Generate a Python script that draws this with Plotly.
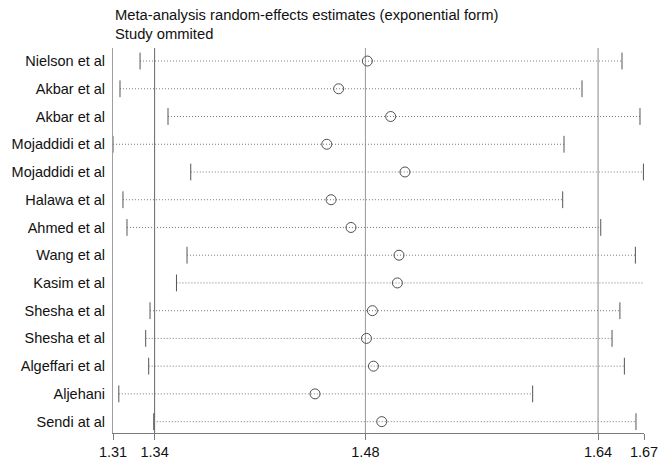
import plotly.graph_objects as go

studies = ["Nielson et al", "Akbar et al", "Akbar et al", "Mojaddidi et al", "Mojaddidi et al",
           "Halawa et al", "Ahmed et al", "Wang et al", "Kasim et al", "Shesha et al",
           "Shesha et al", "Algeffari et al", "Aljehani", "Sendi at al"]
estimate = [1.4835, 1.4642, 1.4992, 1.4562, 1.5088, 1.4591, 1.4725,
            1.5048, 1.5037, 1.4869, 1.4829, 1.4876, 1.4483, 1.4932]
lower = [1.3306, 1.3171, 1.3494, 1.3124, 1.3647, 1.3191, 1.3218,
         1.3622, 1.3551, 1.3373, 1.3344, 1.3364, 1.3163, 1.3398]
upper = [1.6548, 1.6279, 1.6669, 1.6158, 1.6692, 1.6149, 1.6405,
         1.6638, 1.6699, 1.6534, 1.6481, 1.6564, 1.5947, 1.6642]

pooled = 1.4822
pooled_low = 1.3404
pooled_high = 1.6387
axis_min = 1.3124
axis_max = 1.6696
tick_values = [axis_min, pooled_low, pooled, pooled_high, axis_max]
tick_labels = ["1.31", "1.34", "1.48", "1.64", "1.67"]

FONT = "Liberation Sans, Arial, sans-serif"
rows = list(range(len(studies)))

fig = go.Figure()

# dotted CI lines
for i in rows:
    fig.add_trace(go.Scatter(x=[lower[i], upper[i]], y=[i, i], mode="lines",
                             line=dict(color="#7a7a7a", width=1, dash="1px,2px"),
                             hoverinfo="skip", showlegend=False, cliponaxis=False))

# caps
fig.add_trace(go.Scatter(x=lower + upper, y=rows + rows, mode="markers",
                         marker=dict(symbol="line-ns", size=12,
                                     line=dict(color="#555555", width=1)),
                         showlegend=False, cliponaxis=False))

# point estimates
fig.add_trace(go.Scatter(x=estimate, y=rows, mode="markers",
                         marker=dict(symbol="circle-open", size=10,
                                     color="#505050", line=dict(width=1)),
                         showlegend=False, cliponaxis=False))

# reference lines
for v, c in [(pooled_low, "#666666"), (pooled, "#999999"), (pooled_high, "#888888")]:
    fig.add_shape(type="line", xref="x", yref="paper", x0=v, x1=v, y0=0, y1=1,
                  line=dict(color=c, width=1), layer="below")

# the page body has an 8px default margin, so the figure is sized to fit the window
fig.update_layout(
    width=661, height=458,
    margin=dict(l=105, r=25, t=40, b=33),
    paper_bgcolor="white", plot_bgcolor="white",
    font=dict(family=FONT, size=14.5, color="#111111"),
    showlegend=False,
    xaxis=dict(range=[axis_min, axis_max], tickvals=tick_values, ticktext=tick_labels,
               showgrid=False, zeroline=False, showline=True, linecolor="#7a7a7a",
               linewidth=1, ticks="outside", ticklen=6, tickcolor="#7a7a7a",
               tickfont=dict(size=14.5), automargin=False),
    yaxis=dict(range=[13.41, -0.47], tickvals=rows, ticktext=studies,
               showgrid=False, zeroline=False, showline=True, linecolor="#a0a0a0",
               linewidth=1, ticks="", ticklabelstandoff=4,
               tickfont=dict(size=14.5), automargin=False),
    annotations=[
        dict(text="Meta-analysis random-effects estimates (exponential form)<br>Study ommited",
             xref="paper", yref="paper", x=0, y=1, xanchor="left", yanchor="bottom",
             yshift=4, align="left", showarrow=False, font=dict(size=14.75, family=FONT))
    ],
)

fig.write_html("out.html")
